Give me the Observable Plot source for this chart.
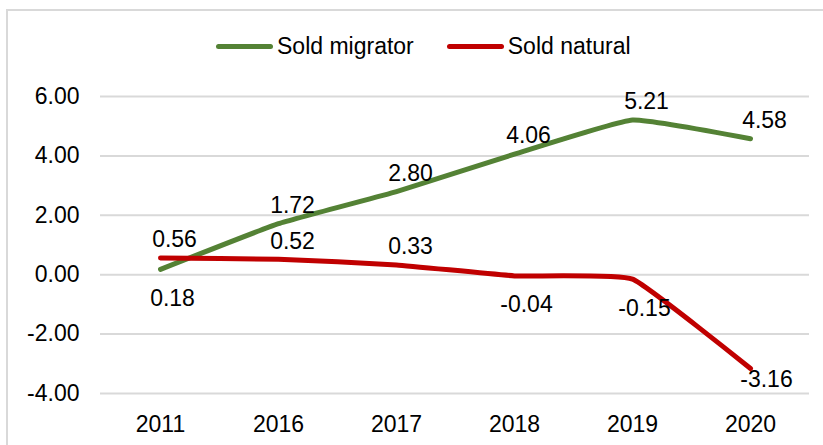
<!DOCTYPE html>
<html>
<head>
<meta charset="utf-8">
<script src="https://cdn.jsdelivr.net/npm/d3@7"></script>
<script src="https://cdn.jsdelivr.net/npm/@observablehq/plot@0.6"></script>
<style>
  html, body { margin: 0; padding: 0; background: #fff; }
  body { width: 823px; height: 445px; overflow: hidden; position: relative; font-family: "Liberation Sans", Arial, sans-serif; }
  #frame { position: absolute; left: 6px; top: 9px; width: 1000px; height: 1000px; border-left: 2px solid #d9d9d9; border-top: 2px solid #d9d9d9; box-sizing: border-box; pointer-events: none; }
  #legend { position: relative; height: 48px; padding-top: 22px; padding-left: 216px; display: flex; align-items: center; font-size: 23px; color: #000; box-sizing: content-box; }
  .item { display: flex; align-items: center; margin-right: 33px; }
  .sw { width: 57px; height: 5px; border-radius: 3px; margin-right: 4px; }
  #chart { position: relative; }
</style>
</head>
<body>
<div id="frame"></div>
<div id="legend"></div>
<div id="chart"></div>
<script>
const years = ["2011", "2016", "2017", "2018", "2019", "2020"];
const soldMigrator = [0.18, 1.72, 2.80, 4.06, 5.21, 4.58];
const soldNatural = [0.56, 0.52, 0.33, -0.04, -0.15, -3.16];
const migratorLabelPos = ["below", "above", "above", "above", "above", "above"];
const naturalLabelPos = ["above", "above", "above", "below", "below", "right"];
const yTicks = [-4, -2, 0, 2, 4, 6];
const seriesNames = ["Sold migrator", "Sold natural"];
const seriesColors = ["#548235", "#c00000"];

const rows = [];
years.forEach((y, i) => {
  rows.push({year: y, value: soldMigrator[i], series: seriesNames[0], pos: migratorLabelPos[i]});
});
years.forEach((y, i) => {
  rows.push({year: y, value: soldNatural[i], series: seriesNames[1], pos: naturalLabelPos[i]});
});

// legend
const legend = document.getElementById("legend");
seriesNames.forEach((name, i) => {
  const it = document.createElement("div");
  it.className = "item";
  const sw = document.createElement("span");
  sw.className = "sw";
  sw.style.background = seriesColors[i];
  const tx = document.createElement("span");
  tx.textContent = name;
  it.appendChild(sw);
  it.appendChild(tx);
  legend.appendChild(it);
});

const fmt = d => d.toFixed(2);
const offsets = {above: [14, -18], below: [12, 29], right: [16, 11]};

const labelMarks = Object.entries(offsets).map(([pos, [dx, dy]]) =>
  Plot.text(rows.filter(r => r.pos === pos), {
    x: "year", y: "value", text: d => fmt(d.value),
    dx, dy, fill: "#000", fontSize: 23, textAnchor: "middle", lineAnchor: "middle"
  })
);

const chart = Plot.plot({
  width: 823,
  height: 375,
  marginLeft: 100,
  marginRight: 14,
  marginTop: 26,
  marginBottom: 52,
  style: {fontFamily: "'Liberation Sans', Arial, sans-serif", fontSize: "23px", color: "#000", background: "transparent", overflow: "visible"},
  x: {type: "point", domain: years, padding: 0.5, label: null},
  y: {domain: [-4, 6], label: null},
  color: {domain: seriesNames, range: seriesColors},
  marks: [
    Plot.gridY(yTicks, {stroke: "#d9d9d9", strokeOpacity: 1, strokeWidth: 2}),
    Plot.axisY(yTicks, {tickSize: 0, tickPadding: 21, tickFormat: fmt, label: null, fill: "#000", fontSize: 23}),
    Plot.axisX({tickSize: 0, tickPadding: 22, label: null, fill: "#000", fontSize: 23}),
    Plot.line(rows, {x: "year", y: "value", z: "series", stroke: "series", strokeWidth: 5, curve: "cardinal", tension: 0.65, strokeLinecap: "round", strokeLinejoin: "round"}),
    ...labelMarks
  ]
});
document.getElementById("chart").appendChild(chart);
</script>
</body>
</html>
